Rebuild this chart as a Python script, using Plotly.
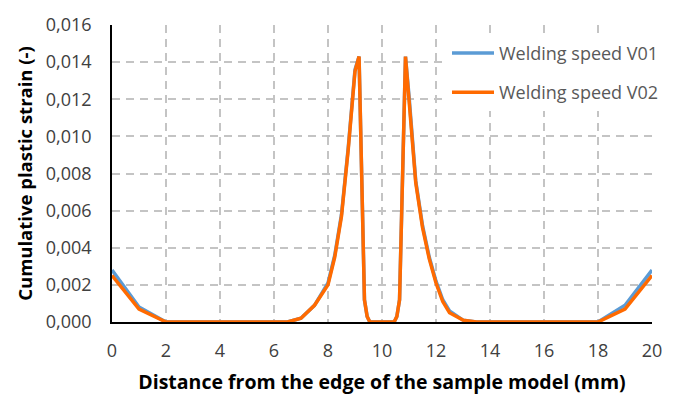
import plotly.graph_objects as go

x_v01 = [0, 1, 2, 3, 4, 5, 6, 6.5, 7, 7.5, 8, 8.25, 8.5, 8.75, 9.0, 9.15, 9.35, 9.45, 9.55,
         10.45, 10.55, 10.65, 10.87, 11.0, 11.25, 11.5, 11.75, 12.0, 12.25, 12.5, 13.0, 13.5,
         14, 15, 16, 17, 18, 19, 20]
y_v01 = [0.0028, 0.0008, 0.0, 0.0, 0.0, 0.0, 0.0, 0.0, 0.0002, 0.0009, 0.0021, 0.0036, 0.0058, 0.0094, 0.0136, 0.0143, 0.0012, 0.0003, 0.0,
         0.0, 0.0003, 0.0012, 0.0143, 0.0122, 0.0076, 0.0052, 0.0035, 0.0022, 0.0012, 0.0006, 0.0001, 0.0,
         0.0, 0.0, 0.0, 0.0, 0.0, 0.0009, 0.0028]

x_v02 = x_v01
y_v02 = [0.0025, 0.0007, 0.0, 0.0, 0.0, 0.0, 0.0, 0.0, 0.0002, 0.0009, 0.0020, 0.0035, 0.0057, 0.0093, 0.0135, 0.0143, 0.0012, 0.0003, 0.0,
         0.0, 0.0003, 0.0012, 0.0143, 0.0121, 0.0075, 0.0051, 0.0034, 0.0021, 0.0011, 0.0005, 0.0001, 0.0,
         0.0, 0.0, 0.0, 0.0, 0.0, 0.0007, 0.0025]

series_names = ["Welding speed V01", "Welding speed V02"]

fig = go.Figure()
fig.add_trace(go.Scatter(x=x_v01, y=y_v01, mode="lines", name=series_names[0],
                         line=dict(color="#5B9BD5", width=3.5), legendgroup="a"))
fig.add_trace(go.Scatter(x=x_v02, y=y_v02, mode="lines", name=series_names[1],
                         line=dict(color="#FF6A00", width=3.5), legendgroup="b"))

font_fam = "Open Sans, Noto Sans, sans-serif"
grid = dict(showgrid=True, gridcolor="#C4C4C4", griddash="8px,6px", gridwidth=2)
fig.update_layout(
    width=683, height=403,
    margin=dict(l=112, r=31, t=18, b=81),
    paper_bgcolor="white", plot_bgcolor="white",
    separators=",.",
    font=dict(family=font_fam, size=18, color="#404040"),
    showlegend=True,
    legend=dict(x=(447 - 112) / 540, y=(322 - 28) / 304, xanchor="left", yanchor="top",
                bgcolor="white", font=dict(size=18, color="#595959"),
                tracegroupgap=13, itemwidth=42),
    xaxis=dict(range=[0, 20], dtick=2, tick0=0, **grid, showline=True, linecolor="black",
               linewidth=2, zeroline=False, ticks="", ticklabelstandoff=11,
               tickfont=dict(size=18, color="#404040"),
               title=dict(text="<b>Distance from the edge of the sample model (mm)</b>",
                          font=dict(size=19.5, color="black"), standoff=15)),
    yaxis=dict(range=[0, 0.016], dtick=0.002, tick0=0, tickformat=".3f", **grid,
               showline=True, linecolor="black", linewidth=1.5, zeroline=False, ticks="",
               ticklabelstandoff=15, tickfont=dict(size=18, color="#404040"),
               title=dict(text="<b>Cumulative plastic strain (-)</b>",
                          font=dict(size=18.5, color="black"), standoff=8)),
)

fig.write_html("out.html")
